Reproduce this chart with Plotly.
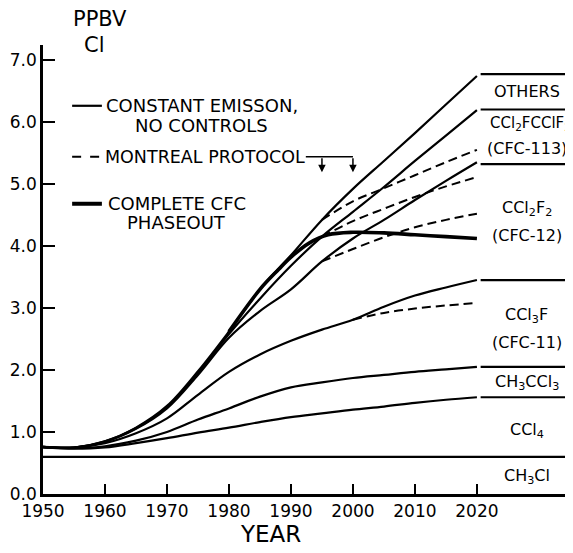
import plotly.graph_objects as go

# cumulative chlorine (ppbv Cl), constant emissions / no controls
years = [1950, 1955, 1960, 1965, 1970, 1975, 1980, 1985, 1990, 1995, 2000, 2005, 2010, 2015, 2020]
others = [0.76, 0.75, 0.85, 1.07, 1.42, 1.98, 2.62, 3.30, 3.85, 4.42, 4.92, 5.37, 5.82, 6.28, 6.74]
cfc113 = [0.76, 0.75, 0.85, 1.06, 1.40, 1.95, 2.58, 3.15, 3.68, 4.15, 4.55, 4.95, 5.37, 5.78, 6.19]
cfc12 = [0.76, 0.75, 0.84, 1.05, 1.38, 1.92, 2.52, 2.95, 3.30, 3.75, 4.12, 4.42, 4.74, 5.05, 5.35]
cfc11 = [0.76, 0.75, 0.82, 0.98, 1.22, 1.60, 1.97, 2.25, 2.47, 2.65, 2.81, 3.02, 3.20, 3.33, 3.45]
ch3ccl3 = [0.75, 0.74, 0.77, 0.86, 1.00, 1.20, 1.38, 1.57, 1.72, 1.80, 1.87, 1.92, 1.97, 2.01, 2.05]
ccl4 = [0.75, 0.73, 0.75, 0.82, 0.90, 0.99, 1.07, 1.16, 1.24, 1.30, 1.36, 1.41, 1.47, 1.52, 1.56]
ch3cl_years = [1950, 2035.5]
ch3cl = [0.6, 0.6]

# Montreal protocol scenarios
mp_years = [1995, 2000, 2005, 2010, 2015, 2020]
mp_others = [4.42, 4.72, 4.93, 5.14, 5.35, 5.55]
mp_cfc113 = [4.15, 4.40, 4.60, 4.79, 4.96, 5.11]
mp_cfc12 = [3.75, 3.95, 4.14, 4.30, 4.42, 4.52]
mp11_years = [2000, 2005, 2010, 2015, 2020]
mp_cfc11 = [2.81, 2.92, 2.99, 3.04, 3.08]

# complete CFC phaseout
po_years = [1980, 1985, 1988, 1990, 1993, 1996, 2000, 2005, 2010, 2015, 2020]
phaseout = [2.62, 3.30, 3.62, 3.82, 4.05, 4.18, 4.22, 4.21, 4.18, 4.15, 4.12]

# right-hand label bands
band_levels = [6.77, 6.20, 5.32, 3.45, 2.05, 1.56]
band_x = [2020.6, 2035.5]
band_labels = ["OTHERS", "(CFC-113)", "CCl<sub>2</sub>F<sub>2</sub>",
               "(CFC-12)", "CCl<sub>3</sub>F", "(CFC-11)", "CH<sub>3</sub>CCl<sub>3</sub>",
               "CCl<sub>4</sub>", "CH<sub>3</sub>Cl"]
band_label_y = [6.49, 5.57, 4.60, 4.17, 2.88, 2.45, 1.80, 1.03, 0.28]

FONT = "DejaVu Sans"
fig = go.Figure()

for ys in [others, cfc113, cfc12, cfc11, ch3ccl3, ccl4]:
    fig.add_trace(go.Scatter(x=years, y=ys, mode="lines",
                             line=dict(color="black", width=2.2, shape="spline")))
fig.add_trace(go.Scatter(x=ch3cl_years, y=ch3cl, mode="lines", line=dict(color="black", width=2.2)))

for ys in [mp_others, mp_cfc113, mp_cfc12]:
    fig.add_trace(go.Scatter(x=mp_years, y=ys, mode="lines",
                             line=dict(color="black", width=2, dash="9px,5px", shape="spline")))
fig.add_trace(go.Scatter(x=mp11_years, y=mp_cfc11, mode="lines",
                         line=dict(color="black", width=2, dash="9px,5px", shape="spline")))

fig.add_trace(go.Scatter(x=po_years, y=phaseout, mode="lines",
                         line=dict(color="black", width=3.6, shape="spline")))

for lv in band_levels:
    fig.add_trace(go.Scatter(x=band_x, y=[lv, lv], mode="lines", line=dict(color="black", width=2.2)))

for txt, yy in zip(band_labels, band_label_y):
    fig.add_annotation(x=2028, y=yy, text=txt, showarrow=False, xanchor="center", yanchor="middle",
                       font=dict(family=FONT, size=16, color="black"))
fig.add_annotation(x=1, y=5.98, xref="paper", text="CCl<sub>2</sub>FCClF<sub>2</sub>", showarrow=False,
                   xanchor="right", yanchor="middle", font=dict(family=FONT, size=15, color="black"))

# legend drawn by hand
leg = [(6.26, "solid", 2.2), (5.44, "dash", 2), (4.68, "solid", 4)]
for yy, d, w in leg:
    fig.add_shape(type="line", x0=1954.7, x1=1959.5, y0=yy, y1=yy,
                  line=dict(color="black", width=w, dash=d))
tf = dict(family=FONT, size=18, color="black")
fig.add_annotation(x=1959.8, y=6.26, text="CONSTANT EMISSON,", showarrow=False, xanchor="left", font=tf)
fig.add_annotation(x=1964.5, y=5.95, text="NO CONTROLS", showarrow=False, xanchor="left", font=tf)
fig.add_annotation(x=1959.6, y=5.44, text="MONTREAL PROTOCOL", showarrow=False, xanchor="left",
                   font=dict(family=FONT, size=17.5, color="black"))
fig.add_annotation(x=1960.2, y=4.68, text="COMPLETE CFC", showarrow=False, xanchor="left", font=tf)
fig.add_annotation(x=1963.3, y=4.38, text="PHASEOUT", showarrow=False, xanchor="left", font=tf)
fig.add_shape(type="line", x0=1992.4, x1=2000, y0=5.44, y1=5.44, line=dict(color="black", width=1.5))
for ax in [1995, 2000]:
    fig.add_annotation(x=ax, y=5.19, ax=ax, ay=5.44, axref="x", ayref="y", text="",
                       showarrow=True, arrowhead=2, arrowsize=1, arrowwidth=1.5, arrowcolor="black")

fig.add_annotation(x=0.108, y=1.058, xref="paper", yref="paper", text="PPBV", showarrow=False,
                   xanchor="center", yanchor="middle", font=dict(family=FONT, size=21, color="black"))
fig.add_annotation(x=0.098, y=1.0, xref="paper", yref="paper", text="Cl", showarrow=False,
                   xanchor="center", yanchor="middle", font=dict(family=FONT, size=21, color="black"))
fig.add_annotation(x=0.43, y=-0.09, xref="paper", yref="paper", text="YEAR", showarrow=False,
                   xanchor="center", yanchor="middle", font=dict(family=FONT, size=23, color="black"))

# the page body adds an 8px margin, so the figure is 8px smaller on each axis
fig.update_layout(
    width=565, height=545,
    margin=dict(l=35, r=0, t=37, b=59),
    paper_bgcolor="white", plot_bgcolor="white",
    showlegend=False,
    font=dict(family=FONT, color="black"),
)
fig.update_xaxes(range=[1950, 2035.5], tickvals=[1950, 1960, 1970, 1980, 1990, 2000, 2010, 2020],
                 ticks="inside", ticklen=10, tickwidth=1.5, tickcolor="black", automargin=False,
                 showline=True, linecolor="black", linewidth=2.5, showgrid=False, zeroline=False,
                 tickfont=dict(family=FONT, size=17, color="black"))
fig.update_yaxes(range=[0, 7.24], tickvals=[0, 1, 2, 3, 4, 5, 6, 7],
                 ticktext=["0.0", "1.0", "2.0", "3.0", "4.0", "5.0", "6.0", "7.0"],
                 ticks="inside", ticklen=12, tickwidth=1.5, tickcolor="black", automargin=False,
                 showline=True, linecolor="black", linewidth=2.5, showgrid=False, zeroline=False,
                 tickfont=dict(family=FONT, size=17, color="black"))

fig.write_html("out.html")
